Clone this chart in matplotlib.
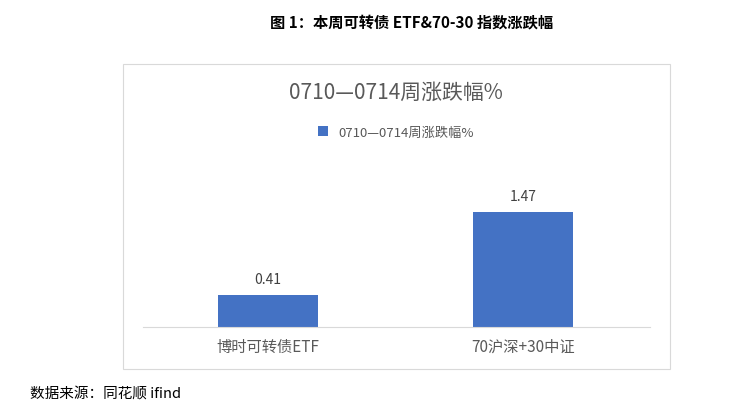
import matplotlib
matplotlib.use("Agg")
import matplotlib.pyplot as plt
from matplotlib.patches import Rectangle

plt.rcParams['font.family'] = ['Noto Sans CJK SC', 'DejaVu Sans']

categories = ["博时可转债ETF", "70沪深+30中证"]
values = [0.41, 1.47]
series_name = "0710—0714周涨跌幅%"

W, H = 734, 414
fig = plt.figure(figsize=(W/100, H/100), dpi=100)

def fx(x): return x / W
def fy(y): return 1 - y / H

fig.add_artist(Rectangle((fx(123), fy(370)), fx(670) - fx(123), fy(65) - fy(370),
                         transform=fig.transFigure, fill=False, edgecolor="#d9d9d9", lw=0.8))

fig.text(fx(412), fy(22), "图 1：本周可转债 ETF&70-30 指数涨跌幅", ha="center", va="center",
         fontsize=11, fontweight="bold", color="black")
fig.text(fx(396), fy(93), series_name, ha="center", va="center", fontsize=15, color="#595959")

ax = fig.add_axes([fx(143), fy(328), fx(650) - fx(143), fy(160) - fy(328)])
bars = ax.bar(range(len(categories)), values, width=0.39, color="#4472c4", label=series_name)
ax.set_xlim(-0.49, 1.498)
ax.set_ylim(0, 2.15)
for i, v in enumerate(values):
    ax.text(i, v + 0.12, f"{v:.2f}", ha="center", va="bottom", fontsize=10, color="#404040")
ax.set_xticks(range(len(categories)))
ax.set_xticklabels(categories, fontsize=11, color="#595959")
ax.tick_params(axis="x", length=0, pad=8)
ax.set_yticks([])
for s in ["top", "right", "left"]:
    ax.spines[s].set_visible(False)
ax.spines["bottom"].set_color("#d9d9d9")

fig.legend(handles=[bars], labels=[series_name], loc="center", bbox_to_anchor=(fx(396), fy(133)),
           frameon=False, fontsize=9.5, handlelength=0.7, handleheight=0.7, labelcolor="#595959")

fig.text(fx(30), fy(395), "数据来源：同花顺 ifind", ha="left", va="center", fontsize=10.5, color="black")

fig.savefig("out.png", dpi=100)
